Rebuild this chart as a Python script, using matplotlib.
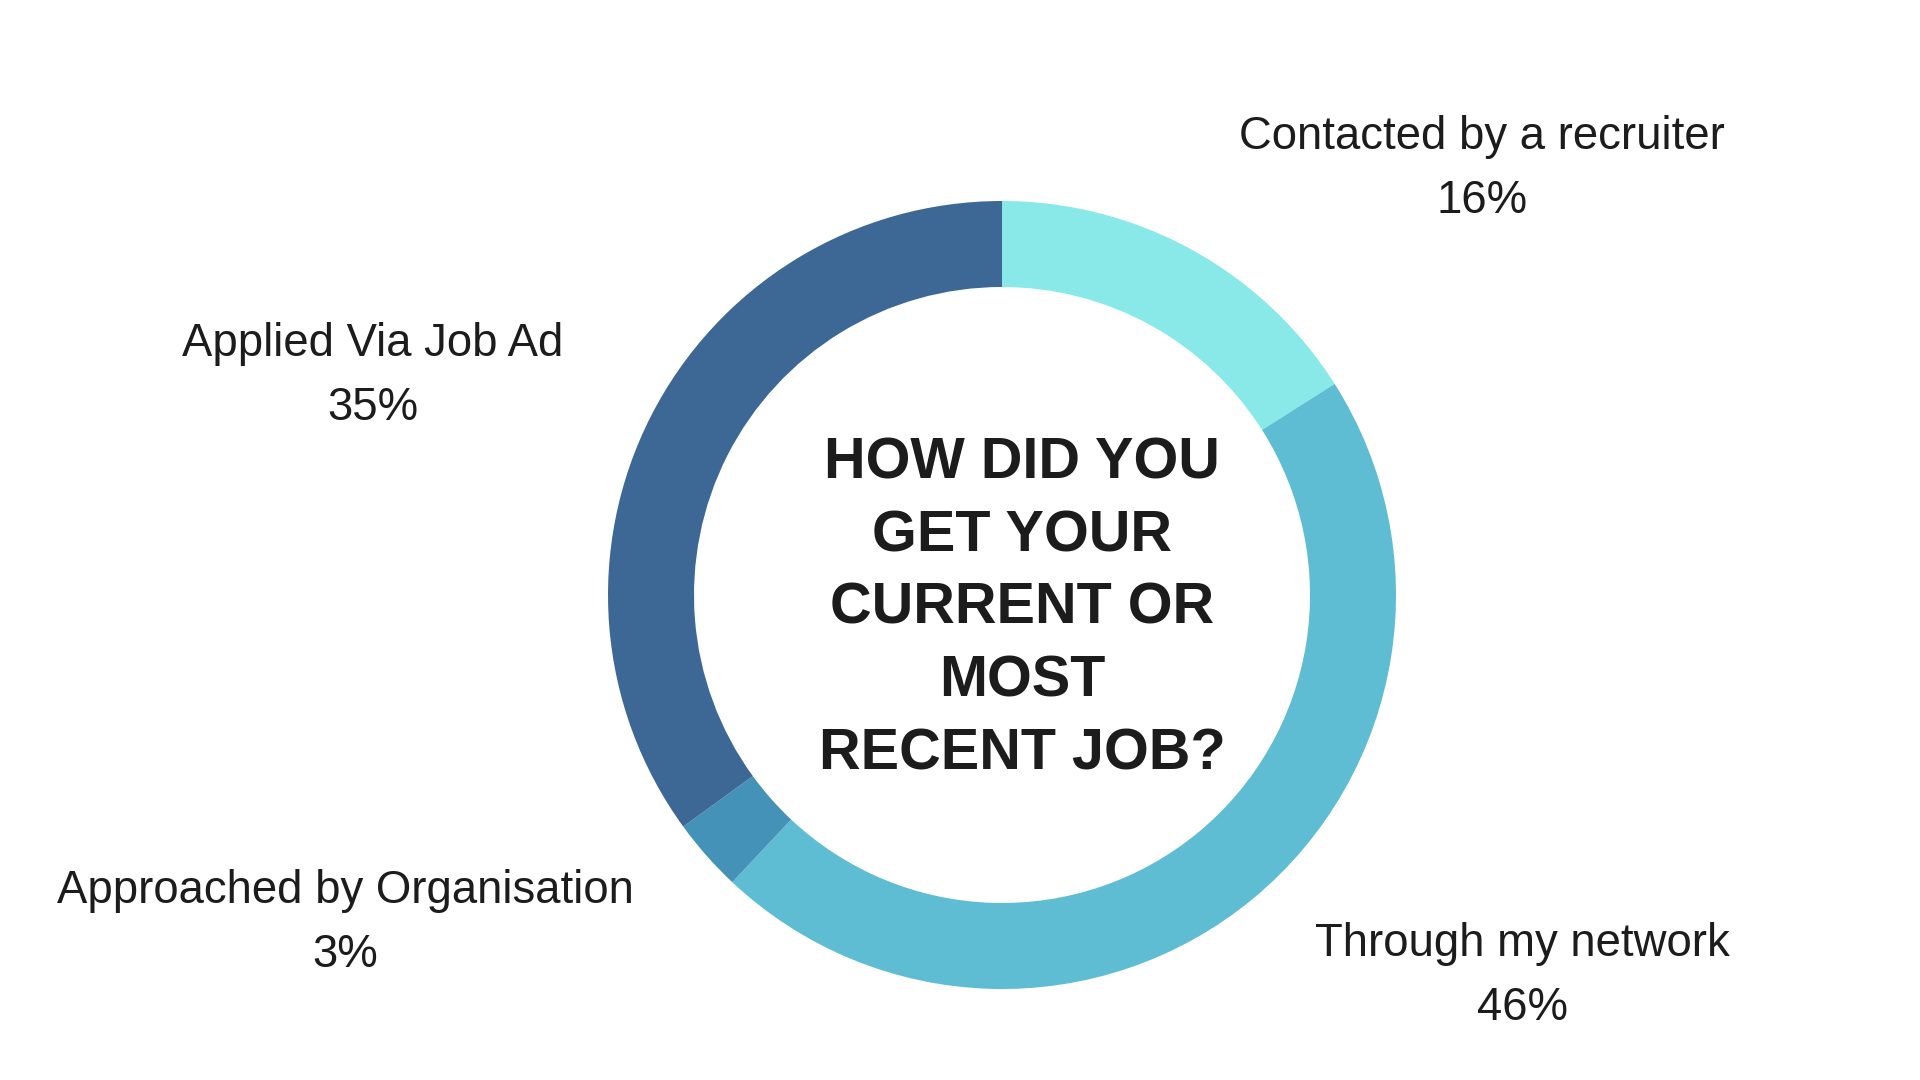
import matplotlib.pyplot as plt

# survey answers, clockwise from the top
categories = ['Contacted by a recruiter', 'Through my network',
              'Approached by Organisation', 'Applied Via Job Ad']
shares = [16, 46, 3, 35]
colors = ['#88E9E8', '#5EBCD3', '#4592B8', '#3D6896']
title_lines = ['HOW DID YOU', 'GET YOUR', 'CURRENT OR', 'MOST', 'RECENT JOB?']

# label anchor (center x, baseline y) in pixel space, one per category
label_pos = [(1482, 931), (1522, 124), (345, 177), (373, 724)]

text_color = '#1c1c1c'

fig = plt.figure(figsize=(19.2, 10.8), dpi=100)
ax = fig.add_axes([0, 0, 1, 1])

# donut
ax.pie(shares, colors=colors, startangle=90, counterclock=False,
       center=(1002, 485), radius=394,
       wedgeprops=dict(width=86, linewidth=0))

ax.set_xlim(0, 1920)
ax.set_ylim(0, 1080)
ax.set_aspect('equal')
ax.axis('off')

# outside labels: name and percentage
for name, val, (x, y) in zip(categories, shares, label_pos):
    ax.text(x, y, name, ha='center', va='baseline', fontsize=32.8,
            family='Liberation Sans', color=text_color)
    ax.text(x, y - 64, f'{val}%', ha='center', va='baseline', fontsize=32.8,
            family='Liberation Sans', color=text_color)

# title in the hole, one text per line
mid = len(title_lines) // 2
for i, line in enumerate(title_lines):
    ax.text(1022, 456 + (mid - i) * 72.6, line, ha='center', va='baseline',
            fontsize=41.5, fontweight='bold', family='Liberation Sans',
            color=text_color)

fig.savefig('out.png', dpi=100, facecolor='white')
